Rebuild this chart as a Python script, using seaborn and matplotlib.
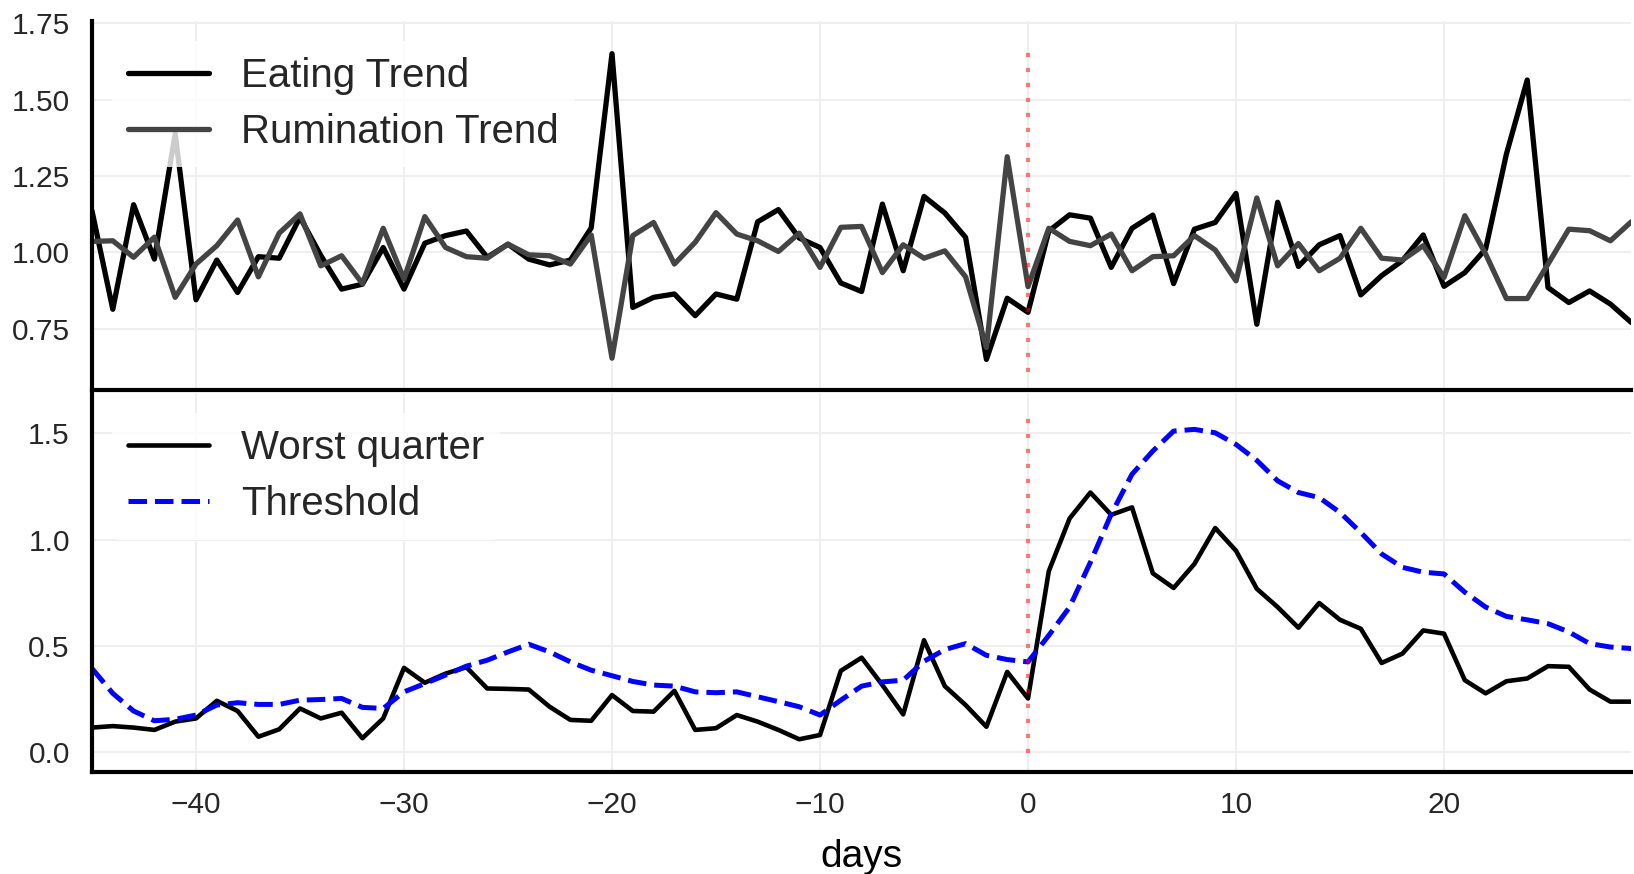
import matplotlib
matplotlib.use("Agg")
import matplotlib.pyplot as plt
from matplotlib.ticker import FormatStrFormatter
import seaborn as sns
import numpy as np
import pandas as pd

# values, one per day
days = list(range(-45, 30))
eating_trend = [1.136, 0.814, 1.156, 0.978, 1.388, 0.845, 0.975, 0.869, 0.986, 0.981,
                1.115, 0.99, 0.88, 0.896, 1.016, 0.88, 1.03, 1.055, 1.07, 0.984,
                1.027, 0.978, 0.959, 0.975, 1.08, 1.65, 0.82, 0.853, 0.864, 0.793,
                0.864, 0.847, 1.10, 1.14, 1.047, 1.016, 0.90, 0.872, 1.158, 0.94,
                1.183, 1.129, 1.049, 0.65, 0.85, 0.804, 1.07, 1.123, 1.112, 0.951,
                1.079, 1.122, 0.898, 1.076, 1.098, 1.193, 0.765, 1.164, 0.954, 1.025,
                1.055, 0.861, 0.924, 0.973, 1.057, 0.889, 0.934, 1.011, 1.322, 1.564,
                0.885, 0.836, 0.874, 0.831, 0.771]
rumination_trend = [1.036, 1.038, 0.984, 1.05, 0.853, 0.962, 1.022, 1.106, 0.92, 1.063,
                    1.126, 0.956, 0.989, 0.898, 1.079, 0.913, 1.117, 1.016, 0.986, 0.981,
                    1.027, 0.992, 0.989, 0.962, 1.057, 0.654, 1.055, 1.098, 0.962, 1.033,
                    1.13, 1.06, 1.038, 1.003, 1.063, 0.951, 1.082, 1.085, 0.934, 1.025,
                    0.981, 1.005, 0.92, 0.689, 1.313, 0.888, 1.079, 1.036, 1.022, 1.06,
                    0.94, 0.986, 0.989, 1.055, 1.008, 0.907, 1.178, 0.956, 1.029, 0.94,
                    0.981, 1.079, 0.981, 0.975, 1.022, 0.918, 1.12, 0.995, 0.849, 0.849,
                    0.962, 1.076, 1.071, 1.038, 1.10]
worst_quarter = [0.116, 0.123, 0.116, 0.105, 0.144, 0.159, 0.242, 0.194, 0.073, 0.108,
                 0.206, 0.159, 0.186, 0.066, 0.159, 0.397, 0.327, 0.37, 0.40, 0.30,
                 0.298, 0.295, 0.214, 0.152, 0.148, 0.269, 0.194, 0.191, 0.289, 0.105,
                 0.113, 0.175, 0.144, 0.105, 0.061, 0.081, 0.383, 0.445, 0.316, 0.178,
                 0.527, 0.311, 0.222, 0.12, 0.378, 0.253, 0.852, 1.10, 1.222, 1.117,
                 1.152, 0.842, 0.773, 0.886, 1.055, 0.948, 0.769, 0.683, 0.586, 0.702,
                 0.623, 0.581, 0.42, 0.464, 0.573, 0.558, 0.339, 0.277, 0.334, 0.347,
                 0.405, 0.402, 0.295, 0.238, 0.238]
threshold = [0.394, 0.277, 0.194, 0.148, 0.155, 0.175, 0.222, 0.233, 0.225, 0.225,
             0.245, 0.248, 0.253, 0.211, 0.206, 0.284, 0.323, 0.363, 0.405, 0.433,
             0.472, 0.508, 0.472, 0.425, 0.386, 0.36, 0.333, 0.316, 0.311, 0.284,
             0.28, 0.284, 0.261, 0.238, 0.214, 0.175, 0.245, 0.311, 0.331, 0.339,
             0.428, 0.483, 0.511, 0.456, 0.436, 0.425, 0.55, 0.683, 0.894, 1.12,
             1.308, 1.417, 1.511, 1.519, 1.503, 1.448, 1.373, 1.277, 1.222, 1.198,
             1.128, 1.034, 0.933, 0.87, 0.847, 0.839, 0.753, 0.683, 0.639, 0.623,
             0.605, 0.566, 0.511, 0.495, 0.488]
event_day = 0

x_ticks = [-40, -30, -20, -10, 0, 10, 20]
top_yticks = [0.75, 1.00, 1.25, 1.50, 1.75]
bottom_yticks = [0.0, 0.5, 1.0, 1.5]

df = pd.DataFrame({"days": days, "eating": eating_trend, "rumination": rumination_trend,
                   "worst": worst_quarter, "threshold": threshold})

sns.set_theme(style="whitegrid", rc={
    "grid.color": "#efefef",
    "grid.linewidth": 1.5,
    "axes.edgecolor": "black",
    "axes.linewidth": 3.0,
    "xtick.major.size": 0,
    "ytick.major.size": 0,
})
plt.rcParams['font.family'] = ['Liberation Sans', 'DejaVu Sans']

fig = plt.figure(figsize=(16.34, 8.74), dpi=100)
ax_top = fig.add_axes([0.0563, 0.5538, 0.942, 0.4222])
ax_bot = fig.add_axes([0.0563, 0.1167, 0.942, 0.4336], sharex=ax_top)

# top panel: eating / rumination trends
sns.lineplot(data=df, x="days", y="eating", color="black", lw=3.8, label="Eating Trend", ax=ax_top)
sns.lineplot(data=df, x="days", y="rumination", color="#444444", lw=3.8, label="Rumination Trend", ax=ax_top)
ax_top.axvline(event_day, ymin=0.05, ymax=0.93, color="red", alpha=0.5, lw=3, dashes=(1, 2.6))
ax_top.set_ylim(0.55, 1.757)
ax_top.set_yticks(top_yticks)
ax_top.yaxis.set_major_formatter(FormatStrFormatter('%.2f'))

# bottom panel: worst quarter vs threshold
sns.lineplot(data=df, x="days", y="worst", color="black", lw=3.3, label="Worst quarter", ax=ax_bot)
sns.lineplot(data=df, x="days", y="threshold", color="blue", lw=3.6, linestyle="--", label="Threshold", ax=ax_bot)
ax_bot.axvline(event_day, ymin=0.05, ymax=0.935, color="red", alpha=0.5, lw=3, dashes=(1, 2.6))
ax_bot.set_ylim(-0.093, 1.69)
ax_bot.set_yticks(bottom_yticks)

ax_bot.set_xlim(-45, 29)
ax_bot.set_xticks(x_ticks)

for ax in (ax_top, ax_bot):
    sns.despine(ax=ax, top=True, right=True)
    ax.tick_params(axis="y", labelsize=21.5, pad=16, colors=".15")
    ax.tick_params(axis="x", labelsize=21.5, pad=14, colors=".15")
    ax.set_ylabel("")
    ax.legend(loc="upper left", fontsize=29, frameon=True, framealpha=0.8,
              edgecolor="none", labelspacing=0.45)

ax_top.set_xlabel("")
ax_top.tick_params(axis="x", labelbottom=False)
ax_bot.set_xlabel("days", fontsize=28, color="black", labelpad=14)

fig.savefig("out.png", dpi=100)
plt.close(fig)
